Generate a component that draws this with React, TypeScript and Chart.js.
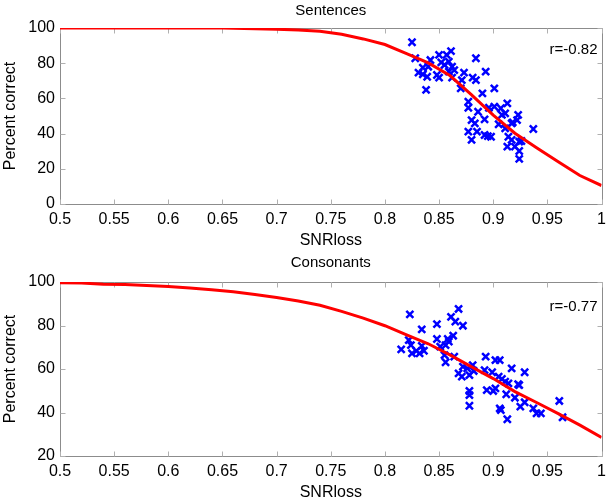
import React, { useEffect, useRef } from "react";
import { Chart, registerables } from "chart.js";
Chart.register(...registerables);

const FONT = "'Liberation Sans', Arial, Helvetica, sans-serif";

const xTickValues = [0.5, 0.55, 0.6, 0.65, 0.7, 0.75, 0.8, 0.85, 0.9, 0.95, 1];
const sentYTicks = [0, 20, 40, 60, 80, 100];
const consYTicks = [20, 40, 60, 80, 100];

// Sentences fitted curve
const sentCurveX = [0.5, 0.55, 0.6, 0.65, 0.66, 0.68, 0.7, 0.72, 0.74, 0.76, 0.78, 0.8, 0.82, 0.84, 0.86, 0.88, 0.9, 0.92, 0.94, 0.96, 0.98, 1.0];
const sentCurveY = [100, 100, 100, 100, 99.8, 99.6, 99.3, 98.9, 98.1, 96.4, 93.8, 90.6, 85.5, 80.2, 73.0, 62.0, 50.5, 40.2, 32.0, 24.0, 16.2, 10.5];

// Sentences scatter
const sentPtsX = [0.825, 0.828, 0.831, 0.835, 0.835, 0.839, 0.838, 0.842, 0.84, 0.848, 0.85, 0.85, 0.852, 0.855, 0.857, 0.861, 0.859, 0.862, 0.864, 0.862, 0.87, 0.871, 0.873, 0.884, 0.881, 0.884, 0.893, 0.877, 0.877, 0.89, 0.901, 0.886, 0.88, 0.883, 0.892, 0.896, 0.901, 0.907, 0.913, 0.911, 0.908, 0.905, 0.911, 0.917, 0.922, 0.923, 0.877, 0.885, 0.88, 0.892, 0.898, 0.895, 0.914, 0.917, 0.924, 0.913, 0.92, 0.924, 0.924, 0.859, 0.937, 0.918, 0.926];
const sentPtsY = [91.9, 82.8, 74.6, 77.5, 73.7, 72.3, 64.8, 81.8, 78.0, 73.3, 71.8, 84.7, 80.5, 79.0, 84.7, 86.9, 80.9, 78.0, 76.1, 71.8, 65.7, 70.4, 74.6, 82.8, 71.8, 70.4, 75.2, 58.1, 54.7, 62.9, 65.7, 52.4, 47.7, 45.8, 48.1, 54.7, 55.3, 54.4, 57.2, 51.5, 50.6, 45.3, 43.0, 45.8, 47.7, 50.6, 41.1, 41.1, 36.4, 39.2, 38.2, 38.6, 38.2, 36.4, 35.4, 32.6, 32.6, 30.1, 25.6, 75.2, 42.6, 46.4, 35.8];

// Consonants fitted curve
const consCurveX = [0.5, 0.52, 0.54, 0.56, 0.58, 0.6, 0.62, 0.64, 0.66, 0.68, 0.7, 0.72, 0.74, 0.76, 0.78, 0.8, 0.82, 0.84, 0.86, 0.88, 0.9, 0.92, 0.94, 0.96, 0.98, 1.0];
const consCurveY = [99.6, 99.5, 99.0, 98.8, 98.4, 97.9, 97.2, 96.4, 95.5, 94.3, 92.9, 91.3, 89.3, 86.5, 83.4, 79.9, 75.7, 71.6, 66.5, 61.0, 55.6, 49.6, 44.6, 39.5, 34.2, 28.5];

// Consonants scatter
const consPtsX = [0.823, 0.868, 0.861, 0.865, 0.872, 0.848, 0.834, 0.863, 0.848, 0.858, 0.822, 0.824, 0.815, 0.825, 0.829, 0.834, 0.836, 0.832, 0.851, 0.856, 0.859, 0.855, 0.856, 0.864, 0.872, 0.881, 0.876, 0.868, 0.871, 0.878, 0.882, 0.893, 0.902, 0.906, 0.917, 0.892, 0.899, 0.905, 0.908, 0.911, 0.914, 0.923, 0.894, 0.9, 0.902, 0.878, 0.878, 0.912, 0.92, 0.878, 0.906, 0.907, 0.913, 0.925, 0.929, 0.929, 0.924, 0.937, 0.94, 0.944, 0.961, 0.964];
const consPtsY = [85.1, 87.6, 84.0, 81.8, 79.9, 80.6, 78.2, 75.3, 73.8, 73.8, 73.3, 71.0, 69.0, 67.2, 68.3, 70.6, 68.4, 67.2, 70.3, 71.0, 72.6, 66.4, 63.1, 65.7, 61.1, 61.8, 60.3, 58.0, 56.5, 57.2, 59.1, 65.7, 64.1, 64.1, 60.3, 59.5, 58.5, 56.5, 55.4, 54.2, 53.4, 53.0, 50.3, 49.9, 51.1, 49.9, 48.0, 48.4, 46.8, 43.1, 41.9, 41.1, 36.9, 42.7, 44.7, 58.5, 52.6, 41.9, 39.6, 39.6, 45.3, 37.8];

const boxTicks = {
  id: "boxTicks",
  beforeDatasetsDraw(chart: any) {
    const { ctx, chartArea: a, scales } = chart;
    const L = Math.round(a.left) + 0.5;
    const R = Math.round(a.right) + 0.5;
    const T = Math.round(a.top) + 0.5;
    const B = Math.round(a.bottom) + 0.5;
    ctx.save();
    ctx.strokeStyle = "#8c8c8c";
    ctx.lineWidth = 1;
    ctx.beginPath();
    ctx.rect(L, T, R - L, B - T);
    ctx.stroke();
    ctx.strokeStyle = "#b0b0b0";
    ctx.beginPath();
    const tl = 5;
    scales.x.ticks.forEach((t: any) => {
      const px = Math.round(scales.x.getPixelForValue(t.value)) + 0.5;
      ctx.moveTo(px, B);
      ctx.lineTo(px, B - tl);
      ctx.moveTo(px, T);
      ctx.lineTo(px, T + tl);
    });
    scales.y.ticks.forEach((t: any) => {
      const py = Math.round(scales.y.getPixelForValue(t.value)) + 0.5;
      ctx.moveTo(L, py);
      ctx.lineTo(L + tl, py);
      ctx.moveTo(R, py);
      ctx.lineTo(R - tl, py);
    });
    ctx.stroke();
    ctx.restore();
  },
  afterDraw(chart: any) {
    const txt = chart.options.plugins.rLabel?.text;
    if (!txt) return;
    const { ctx, chartArea: a } = chart;
    ctx.save();
    ctx.font = `15px ${FONT}`;
    ctx.fillStyle = "#000";
    ctx.textAlign = "right";
    ctx.textBaseline = "middle";
    ctx.fillText(txt, a.right - 4, a.top + chart.options.plugins.rLabel.dy);
    ctx.restore();
  },
};

type PanelProps = {
  title: string;
  curveX: number[];
  curveY: number[];
  ptsX: number[];
  ptsY: number[];
  yMin: number;
  yMax: number;
  yTicks: number[];
  rText: string;
  rDy: number;
  height: number;
  titlePad: { top: number; bottom: number };
};

function Panel(p: PanelProps) {
  const ref = useRef<HTMLCanvasElement>(null);
  useEffect(() => {
    if (!ref.current) return;
    const chart = new Chart(ref.current, {
      type: "scatter",
      data: {
        datasets: [
          {
            type: "line",
            data: p.curveX.map((x, i) => ({ x, y: p.curveY[i] })),
            borderColor: "#ff0000",
            borderWidth: 3,
            pointRadius: 0,
            tension: 0,
            fill: false,
            order: 0,
          } as any,
          {
            type: "scatter",
            data: p.ptsX.map((x, i) => ({ x, y: p.ptsY[i] })),
            pointStyle: "crossRot",
            pointRadius: 5,
            borderWidth: 2.5,
            borderColor: "#0000ff",
            backgroundColor: "#0000ff",
            order: 1,
          } as any,
        ],
      },
      plugins: [boxTicks],
      options: {
        animation: false,
        responsive: false,
        maintainAspectRatio: false,
        layout: { padding: { left: 0, right: 9, top: 0, bottom: 0 } },
        plugins: {
          legend: { display: false },
          tooltip: { enabled: false },
          title: {
            display: true,
            fullSize: false,
            text: p.title,
            color: "#000",
            font: { family: FONT, size: 15, weight: "normal" },
            padding: p.titlePad,
          },
          rLabel: { text: p.rText, dy: p.rDy },
        } as any,
        scales: {
          x: {
            type: "linear",
            min: 0.5,
            max: 1,
            grid: { display: false, drawTicks: false },
            border: { display: false },
            afterBuildTicks: (s: any) => {
              s.ticks = xTickValues.map((v) => ({ value: v }));
            },
            afterFit: (s: any) => {
              s.height = 46;
            },
            ticks: {
              color: "#000",
              padding: 6,
              maxRotation: 0,
              autoSkip: false,
              font: { family: FONT, size: 16 },
              callback: (v: any) => String(Math.round(Number(v) * 100) / 100),
            },
            title: {
              display: true,
              text: "SNRloss",
              color: "#000",
              font: { family: FONT, size: 16 },
              padding: { top: 0, bottom: 0 },
            },
          },
          y: {
            type: "linear",
            min: p.yMin,
            max: p.yMax,
            grid: { display: false, drawTicks: false },
            border: { display: false },
            afterBuildTicks: (s: any) => {
              s.ticks = p.yTicks.map((v) => ({ value: v }));
            },
            afterFit: (s: any) => {
              s.width = 60;
            },
            ticks: {
              color: "#000",
              padding: 5,
              autoSkip: false,
              font: { family: FONT, size: 16 },
            },
            title: {
              display: true,
              text: "Percent correct",
              color: "#000",
              font: { family: FONT, size: 16 },
              padding: { top: 1, bottom: 0 },
            },
          },
        },
      } as any,
    });
    return () => chart.destroy();
  }, []);
  return (
    <div style={{ width: 612, height: p.height, position: "relative" }}>
      <canvas ref={ref} width={612} height={p.height} style={{ display: "block" }} />
    </div>
  );
}

export default function App() {
  return (
    <div style={{ position: "fixed", left: 0, top: 0, width: 612, height: 502, background: "#fff" }}>
      <Panel
        title="Sentences"
        curveX={sentCurveX}
        curveY={sentCurveY}
        ptsX={sentPtsX}
        ptsY={sentPtsY}
        yMin={0}
        yMax={100}
        yTicks={sentYTicks}
        rText="r=-0.82"
        rDy={22}
        height={250}
        titlePad={{ top: 2, bottom: 8 }}
      />
      <Panel
        title="Consonants"
        curveX={consCurveX}
        curveY={consCurveY}
        ptsX={consPtsX}
        ptsY={consPtsY}
        yMin={20}
        yMax={100}
        yTicks={consYTicks}
        rText="r=-0.77"
        rDy={25}
        height={252}
        titlePad={{ top: 4, bottom: 10 }}
      />
    </div>
  );
}
